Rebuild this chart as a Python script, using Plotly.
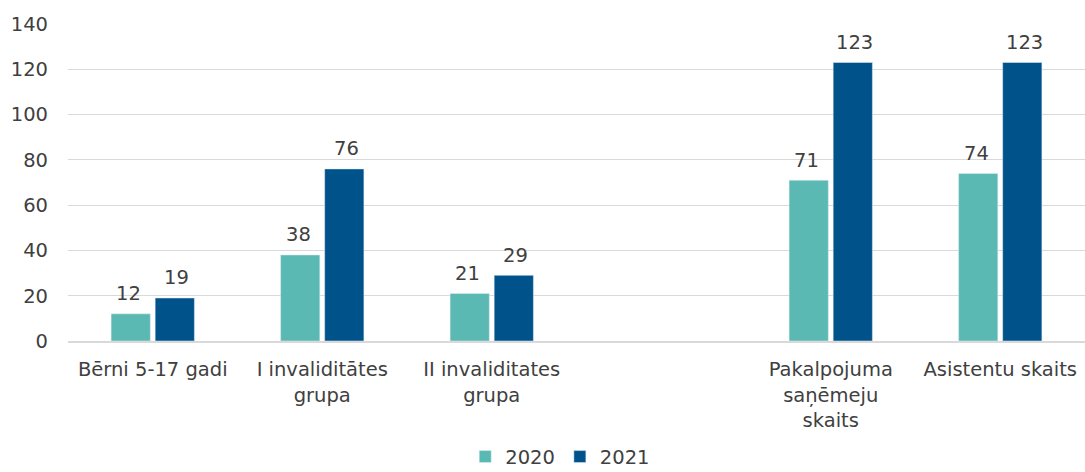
import plotly.graph_objects as go

categories = ["Bērni 5-17 gadi", "I invaliditātes<br>grupa", "II invaliditates<br>grupa", " ",
              "Pakalpojuma<br>saņēmeju<br>skaits", "Asistentu skaits"]
values_2020 = [12, 38, 21, None, 71, 74]
values_2021 = [19, 76, 29, None, 123, 123]
y_ticks = [0, 20, 40, 60, 80, 100, 120, 140]

FONT = "DejaVu Sans"
TXT = "#404040"
SIZE = 19.5

fig = go.Figure()
fig.add_trace(go.Bar(x=categories, y=values_2020, name="2020", marker_color="#5BB9B4"))
fig.add_trace(go.Bar(x=categories, y=values_2021, name="2021", marker_color="#00538A"))

# value labels above bars
for vals, shift in ((values_2020, -24), (values_2021, 24)):
    for c, v in zip(categories, vals):
        if v is None:
            continue
        fig.add_annotation(x=c, y=v, xref="x", yref="y", text=str(v), showarrow=False,
                           xshift=shift, yshift=20,
                           font=dict(family=FONT, size=SIZE, color=TXT))

fig.update_layout(
    width=1085, height=472,
    margin=dict(l=68, r=0, t=24, b=131),
    paper_bgcolor="white", plot_bgcolor="white",
    barmode="group", bargap=0.48, bargroupgap=0.11,
    font=dict(family=FONT, size=SIZE, color=TXT),
    showlegend=True,
    legend=dict(orientation="h", x=0.484, xanchor="center", yref="container",
                y=0.032, yanchor="middle",
                font=dict(family=FONT, size=SIZE, color=TXT), itemwidth=30,
                traceorder="normal"),
    xaxis=dict(type="category", categoryorder="array", categoryarray=categories,
               showline=True, linecolor="#D9D9D9", linewidth=1.5, ticks="",
               automargin=False, ticklabelstandoff=10,
               tickfont=dict(family=FONT, size=SIZE, color=TXT)),
    yaxis=dict(range=[0, 140], tickvals=y_ticks, showgrid=True, gridcolor="#D9D9D9",
               gridwidth=1, zeroline=False, ticks="", ticklabelstandoff=19,
               automargin=False,
               tickfont=dict(family=FONT, size=SIZE, color=TXT)),
)

fig.write_html("out.html", config={"displayModeBar": False},
               post_script="document.body.style.margin='0';document.body.style.overflow='hidden';")
